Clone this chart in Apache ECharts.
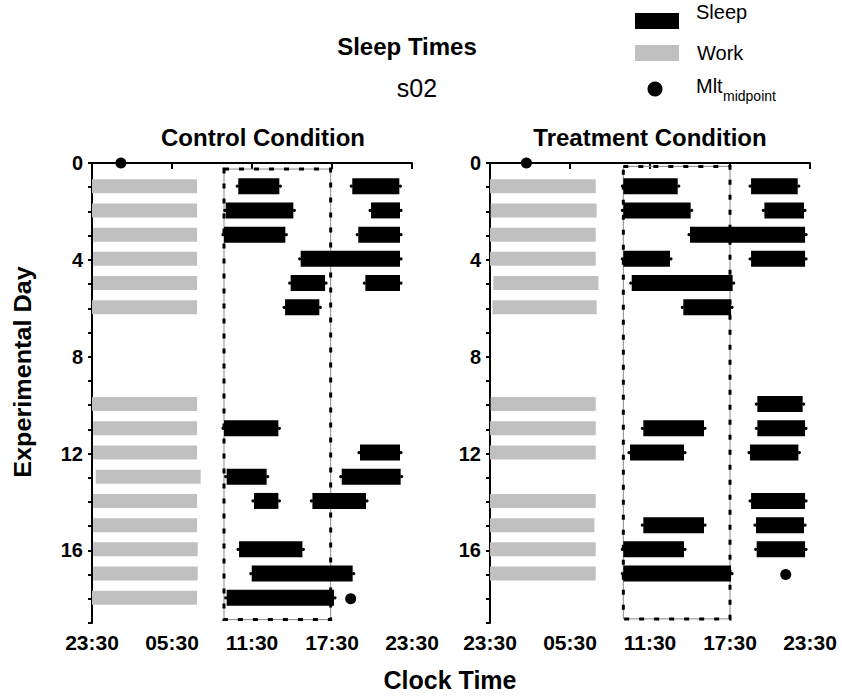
<!DOCTYPE html>
<html>
<head>
<meta charset="utf-8">
<script src="https://cdn.jsdelivr.net/npm/echarts@6/dist/echarts.min.js"></script>
<style>
html,body{margin:0;padding:0;background:#fff;}
#chart{width:842px;height:696px;}
</style>
</head>
<body>
<div id="chart"></div>
<script>
// x values: hours after 23:30 (0 = 23:30, 24 = 23:30 next day); y values: experimental day
const xTickLabels = ['23:30', '05:30', '11:30', '17:30', '23:30'];
const yTickLabels = [0, 4, 8, 12, 16];

// [day, start, end]
const ctrlWork = [
  [1, 0, 7.88], [2, 0, 7.88], [3, 0.08, 7.88], [4, 0.08, 7.88], [5, 0.08, 7.88], [6, 0, 7.88],
  [10, 0, 7.88], [11, 0.08, 7.88], [12, 0.08, 7.88], [13, 0.28, 8.15], [14, 0.08, 7.88],
  [15, 0.08, 7.88], [16, 0.08, 7.93], [17, 0.08, 7.93], [18, 0, 7.88]
];
const ctrlSleep = [
  [1, 10.97, 14.05], [1, 19.52, 23.05],
  [2, 10.03, 15.1], [2, 20.93, 23.1],
  [3, 9.9, 14.5], [3, 19.97, 23.1],
  [4, 15.65, 23.1],
  [5, 14.9, 17.48], [5, 20.5, 23.1],
  [6, 14.48, 17.05],
  [11, 9.9, 13.98],
  [12, 20.1, 23.1],
  [13, 10.1, 13.1], [13, 18.73, 23.15],
  [14, 12.15, 13.98], [14, 16.53, 20.55],
  [16, 11.03, 15.78],
  [17, 11.98, 19.55],
  [18, 10.1, 18.15]
];
const ctrlMlt = [[2.17, 0], [19.4, 18]];
const ctrlWindow = [[9.9, 17.9, 0.25, 18.86]];

const treatWork = [
  [1, 0, 7.93], [2, 0.05, 8.0], [3, 0, 7.93], [4, 0, 7.93], [5, 0.25, 8.13], [6, 0.18, 8.0],
  [10, 0.05, 7.93], [11, 0, 7.93], [12, 0, 7.93], [14, 0, 7.93], [15, 0, 7.83],
  [16, 0, 7.93], [17, 0, 7.93]
];
const treatSleep = [
  [1, 10.0, 14.08], [1, 19.58, 23.08],
  [2, 10.0, 15.05], [2, 20.58, 23.55],
  [3, 15.0, 23.63],
  [4, 10.0, 13.5], [4, 19.58, 23.63],
  [5, 10.63, 18.2],
  [6, 14.5, 18.08],
  [10, 20.05, 23.45],
  [11, 11.5, 16.05], [11, 20.05, 23.63],
  [12, 10.5, 14.55], [12, 19.5, 23.13],
  [14, 19.58, 23.63],
  [15, 11.5, 16.05], [15, 19.95, 23.55],
  [16, 10.0, 14.55], [16, 20.0, 23.63],
  [17, 10.0, 18.08]
];
const treatMlt = [[2.73, 0], [22.18, 17]];
const treatWindow = [[10.0, 18.0, 0.14, 18.83]];

const FONT = '"Liberation Sans", Arial, Helvetica, sans-serif';

function barItem(h, color, caps) {
  return function (params, api) {
    const s = api.coord([api.value(1), api.value(0)]);
    const e = api.coord([api.value(2), api.value(0)]);
    const y = s[1] - 1;
    const children = [{
      type: 'rect',
      shape: { x: s[0], y: y - h / 2, width: e[0] - s[0], height: h },
      style: { fill: color }
    }];
    if (caps) {
      children.push({ type: 'circle', shape: { cx: s[0] - 1, cy: y, r: 1.6 }, style: { fill: color } });
      children.push({ type: 'circle', shape: { cx: e[0] + 1, cy: y, r: 1.6 }, style: { fill: color } });
    }
    return { type: 'group', children: children };
  };
}

function windowItem(params, api) {
  const p0 = api.coord([api.value(0), api.value(2)]);
  const p1 = api.coord([api.value(1), api.value(3)]);
  const shape = { x: p0[0], y: p0[1], width: p1[0] - p0[0], height: p1[1] - p0[1] };
  return {
    type: 'group',
    children: [
      { type: 'rect', shape: shape, style: { fill: 'none', stroke: '#8a8a8a', lineWidth: 1 } },
      { type: 'rect', shape: shape, style: { fill: 'none', stroke: '#000', lineWidth: 3, lineDash: [5, 10] } }
    ]
  };
}

function makeX(idx) {
  return {
    type: 'value', gridIndex: idx, min: 0, max: 24, interval: 6,
    axisLine: { show: true, lineStyle: { color: '#000', width: 2 } },
    axisTick: { show: true, length: 6, lineStyle: { color: '#000', width: 2 } },
    axisLabel: {
      formatter: function (v) { return xTickLabels[Math.round(v / 6)]; },
      color: '#000', fontSize: 21, fontWeight: 'bold', fontFamily: FONT, margin: 9,
      showMinLabel: true, showMaxLabel: true
    },
    splitLine: { show: false }
  };
}
function makeY(idx) {
  return {
    type: 'value', gridIndex: idx, min: 0, max: 19, interval: 1, inverse: true,
    axisLine: { show: true, lineStyle: { color: '#000', width: 2 } },
    axisTick: { show: true, length: 4, lineStyle: { color: '#000', width: 2 } },
    axisLabel: {
      formatter: function (v) { return yTickLabels.indexOf(v) >= 0 ? String(v) : ''; },
      color: '#000', fontSize: 20, fontWeight: 'bold', fontFamily: FONT, margin: 9
    },
    splitLine: { show: false }
  };
}

function panelSeries(idx, work, sleep, mlt, win) {
  return [
    { type: 'custom', xAxisIndex: idx, yAxisIndex: idx, data: win, encode: { x: [0, 1], y: [2, 3] }, renderItem: windowItem, silent: true, z: 1 },
    { type: 'custom', xAxisIndex: idx, yAxisIndex: idx, data: work, encode: { x: [1, 2], y: 0 }, renderItem: barItem(14, '#c0c0c0', false), silent: true, z: 2 },
    { type: 'custom', xAxisIndex: idx, yAxisIndex: idx, data: sleep, encode: { x: [1, 2], y: 0 }, renderItem: barItem(16, '#000', true), silent: true, z: 3 },
    { type: 'scatter', xAxisIndex: idx, yAxisIndex: idx, data: mlt, symbol: 'circle', symbolSize: 11, itemStyle: { color: '#000', opacity: 1 }, silent: true, z: 4 }
  ];
}

const chart = echarts.init(document.getElementById('chart'), null, { renderer: 'svg' });
chart.setOption({
  animation: false,
  backgroundColor: '#fff',
  grid: [
    { left: 92, top: 163, width: 320, height: 460 },
    { left: 490, top: 163, width: 320, height: 460 }
  ],
  xAxis: [makeX(0), makeX(1)],
  yAxis: [makeY(0), makeY(1)],
  series: panelSeries(0, ctrlWork, ctrlSleep, ctrlMlt, ctrlWindow)
    .concat(panelSeries(1, treatWork, treatSleep, treatMlt, treatWindow)),
  graphic: [
    { type: 'text', x: 407, y: 46, style: { text: 'Sleep Times', fontSize: 24, fontWeight: 'bold', fontFamily: FONT, fill: '#000', align: 'center', verticalAlign: 'middle' } },
    { type: 'text', x: 417, y: 88, style: { text: 's02', fontSize: 25, fontFamily: FONT, fill: '#000', align: 'center', verticalAlign: 'middle' } },
    { type: 'text', x: 263, y: 137, style: { text: 'Control Condition', fontSize: 24, fontWeight: 'bold', fontFamily: FONT, fill: '#000', align: 'center', verticalAlign: 'middle' } },
    { type: 'text', x: 650, y: 137, style: { text: 'Treatment Condition', fontSize: 24, fontWeight: 'bold', fontFamily: FONT, fill: '#000', align: 'center', verticalAlign: 'middle' } },
    { type: 'text', x: 23, y: 372, rotation: Math.PI / 2, scaleX: 1.05, style: { text: 'Experimental Day', fontSize: 24, fontWeight: 'bold', fontFamily: FONT, fill: '#000', align: 'center', verticalAlign: 'middle' } },
    { type: 'text', x: 450, y: 680, style: { text: 'Clock Time', fontSize: 25, fontWeight: 'bold', fontFamily: FONT, fill: '#000', align: 'center', verticalAlign: 'middle' } },
    // legend
    { type: 'rect', shape: { x: 635, y: 13, width: 44, height: 16 }, style: { fill: '#000' } },
    { type: 'text', x: 696, y: 12, style: { text: 'Sleep', fontSize: 20, fontFamily: FONT, fill: '#000', align: 'left', verticalAlign: 'middle' } },
    { type: 'rect', shape: { x: 635, y: 45, width: 44, height: 16 }, style: { fill: '#c0c0c0' } },
    { type: 'text', x: 697, y: 53, style: { text: 'Work', fontSize: 20, fontFamily: FONT, fill: '#000', align: 'left', verticalAlign: 'middle' } },
    { type: 'circle', shape: { cx: 655, cy: 89, r: 7.5 }, style: { fill: '#000' } },
    { type: 'text', x: 696, y: 86, style: { text: 'Mlt', fontSize: 20, fontFamily: FONT, fill: '#000', align: 'left', verticalAlign: 'middle' } },
    { type: 'text', x: 723, y: 96, style: { text: 'midpoint', fontSize: 14, fontFamily: FONT, fill: '#000', align: 'left', verticalAlign: 'middle' } }
  ]
});
</script>
</body>
</html>
